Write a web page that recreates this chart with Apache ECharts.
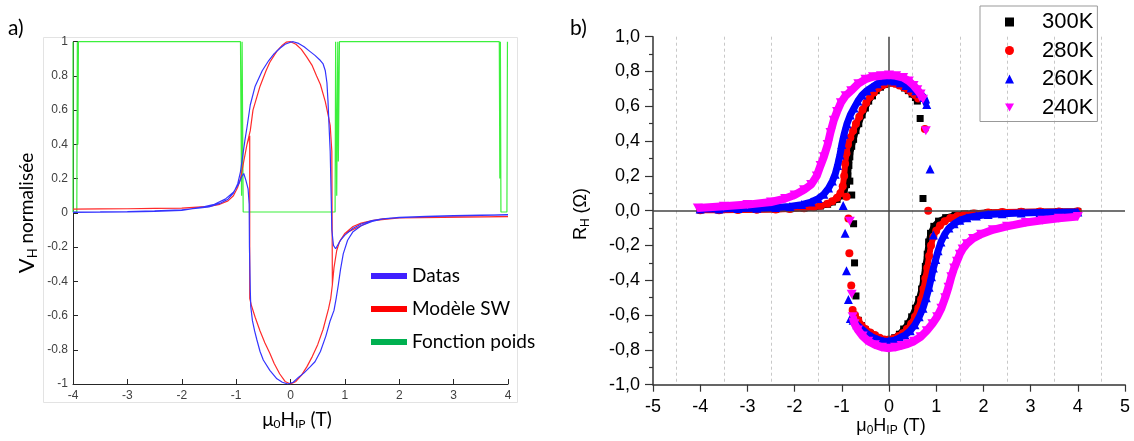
<!DOCTYPE html>
<html><head><meta charset="utf-8">
<script src="https://cdn.jsdelivr.net/npm/echarts@6/dist/echarts.min.js"></script>
<style>html,body{margin:0;padding:0;background:#fff}#c{width:1134px;height:441px}</style>
</head><body><div id="c"></div>
<script>
// ---------- Panel a) : lines ----------
const leftDatas = [
 [-4.00,0.005],[-3.5,0.006],[-3.0,0.008],[-2.5,0.012],[-2.0,0.018],[-1.7,0.027],[-1.5,0.035],[-1.3,0.055],[-1.15,0.08],[-1.05,0.115],[-0.97,0.17],[-0.92,0.24],[-0.88,0.33],[-0.84,0.42],[-0.80,0.50],[-0.74,0.63],[-0.65,0.74],[-0.52,0.83],[-0.40,0.89],[-0.30,0.93],[-0.20,0.96],[-0.10,0.985],[0.0,0.997],[0.05,1.0],[0.15,0.99],[0.25,0.97],[0.35,0.945],[0.45,0.92],[0.55,0.89],[0.60,0.87],[0.64,0.83],[0.67,0.76],[0.69,0.65],[0.71,0.50],[0.73,0.36],[0.75,0.07],[0.76,-0.10],[0.79,-0.19],[0.83,-0.21],[0.86,-0.20],[0.92,-0.16],[1.0,-0.13],[1.15,-0.09],[1.3,-0.065],[1.5,-0.045],[1.7,-0.035],[2.0,-0.028],[2.5,-0.022],[3.0,-0.018],[3.5,-0.015],[4.0,-0.012],
 [4.0,-0.01],[3.5,-0.013],[3.0,-0.016],[2.5,-0.02],[2.0,-0.027],[1.7,-0.035],[1.5,-0.05],[1.3,-0.075],[1.15,-0.11],[1.05,-0.16],[0.97,-0.24],[0.92,-0.33],[0.88,-0.42],[0.84,-0.5],[0.80,-0.57],[0.73,-0.63],[0.65,-0.72],[0.55,-0.81],[0.45,-0.87],[0.36,-0.90],[0.25,-0.935],[0.15,-0.96],[0.05,-0.99],[-0.05,-1.0],[-0.15,-0.99],[-0.25,-0.97],[-0.38,-0.92],[-0.5,-0.86],[-0.56,-0.81],[-0.62,-0.74],[-0.66,-0.69],[-0.70,-0.63],[-0.73,-0.55],[-0.74,-0.45],[-0.755,-0.2],[-0.76,0.05],[-0.78,0.14],[-0.82,0.19],[-0.86,0.23],[-0.9,0.21],[-0.95,0.17],[-1.05,0.12],[-1.2,0.08],[-1.4,0.05],[-1.6,0.035],[-2.0,0.015],[-2.5,0.008],[-3.0,0.005],[-3.5,0.004],[-4.0,0.003]
];
const leftModele = [
 [-4,0.022],[-3.5,0.023],[-3.0,0.024],[-2.5,0.026],[-2.0,0.028],[-1.7,0.032],[-1.5,0.038],[-1.3,0.05],[-1.15,0.07],[-1.05,0.1],[-0.97,0.15],[-0.92,0.2],[-0.86,0.3],[-0.8,0.4],[-0.74,0.48],[-0.69,0.6],[-0.56,0.74],[-0.45,0.83],[-0.38,0.88],[-0.25,0.945],[-0.15,0.98],[-0.08,0.997],[0.0,1.0],[0.1,0.985],[0.2,0.955],[0.3,0.91],[0.4,0.86],[0.48,0.8],[0.55,0.75],[0.64,0.65],[0.7,0.56],[0.73,0.51],[0.76,0.36],[0.77,-0.42],[0.8,-0.32],[0.85,-0.22],[0.9,-0.17],[1.0,-0.12],[1.15,-0.08],[1.3,-0.06],[1.5,-0.045],[1.7,-0.035],[2.0,-0.03],[2.5,-0.026],[3.0,-0.024],[3.5,-0.023],[4.0,-0.022],
 [4.0,-0.022],[2.0,-0.03],[1.5,-0.045],[1.0,-0.12],[0.9,-0.17],[0.85,-0.22],[0.8,-0.32],[0.77,-0.42],[0.74,-0.5],[0.7,-0.56],[0.6,-0.68],[0.5,-0.77],[0.4,-0.84],[0.3,-0.9],[0.2,-0.95],[0.1,-0.985],[0.0,-1.0],[-0.1,-0.985],[-0.2,-0.94],[-0.3,-0.88],[-0.38,-0.82],[-0.47,-0.76],[-0.56,-0.69],[-0.65,-0.61],[-0.72,-0.54],[-0.75,-0.5],[-0.75,0.45],[-0.8,0.4],[-0.86,0.3],[-0.92,0.2],[-0.97,0.15],[-1.05,0.1],[-1.15,0.07],[-1.3,0.05],[-1.5,0.038],[-2.0,0.028],[-3.0,0.024],[-4.0,0.022]
];
const leftPoids = [
 [-4.0,1.0],[-4.0,0.005],[-3.93,0.005],[-3.92,1.0],[-3.91,0.4],[-3.9,1.0],[-0.92,1.0],[-0.9,0.1],[-0.89,1.0],[-0.87,0.005],[0.82,0.005],[0.83,1.0],[0.85,0.1],[0.87,1.0],[0.88,0.3],[0.9,1.0],[3.84,1.0],[3.85,0.2],[3.86,1.0],[3.87,0.005],[3.98,0.005],[3.99,1.0]
];
const leftXTicks = [-4,4,1];
const leftYTicks = [-1,1,0.2];

// ---------- Panel b) : scatter loops ----------
const k300Upper = [[-4,0.005],[-3.6,0.005],[-3.2,0.006],[-2.8,0.007],[-2.4,0.009],[-2.1,0.011],[-1.8,0.015],[-1.6,0.02],[-1.45,0.027],[-1.3,0.037],[-1.2,0.05],[-1.1,0.065],[-1.02,0.085],[-0.95,0.11],[-0.9,0.15],[-0.87,0.2],[-0.85,0.26],[-0.83,0.31],[-0.79,0.37],[-0.75,0.41],[-0.7,0.46],[-0.64,0.5],[-0.57,0.55],[-0.5,0.59],[-0.43,0.63],[-0.35,0.66],[-0.27,0.69],[-0.18,0.71],[-0.09,0.725],[0.0,0.735],[0.08,0.735],[0.16,0.73],[0.25,0.72],[0.33,0.705],[0.41,0.69],[0.49,0.67],[0.56,0.65],[0.6,0.63]];
const k300UpperSwitch = [[0.66,0.53],[0.72,0.07]];
const k300Lower = [[4,-0.004],[3.6,-0.005],[3.2,-0.006],[2.8,-0.007],[2.4,-0.009],[2.1,-0.011],[1.8,-0.015],[1.6,-0.019],[1.4,-0.025],[1.2,-0.04],[1.05,-0.06],[0.95,-0.09],[0.88,-0.13],[0.84,-0.18],[0.81,-0.25],[0.77,-0.32],[0.73,-0.39],[0.69,-0.45],[0.63,-0.51],[0.56,-0.56],[0.48,-0.61],[0.4,-0.65],[0.31,-0.68],[0.22,-0.71],[0.12,-0.73],[0.02,-0.745],[-0.1,-0.745],[-0.2,-0.735],[-0.3,-0.72],[-0.4,-0.705],[-0.5,-0.685],[-0.58,-0.66],[-0.65,-0.63]];
const k300LowerSwitch = [[-0.7,-0.49],[-0.73,-0.3],[-0.75,-0.075],[-0.79,0.09],[-0.83,0.17]];

const k280Upper = [[-4,0.003],[-3.6,0.003],[-3.2,0.004],[-2.8,0.005],[-2.4,0.007],[-2.1,0.01],[-1.8,0.014],[-1.6,0.02],[-1.45,0.028],[-1.3,0.04],[-1.2,0.055],[-1.1,0.075],[-1.03,0.1],[-0.98,0.14],[-0.95,0.2],[-0.93,0.27],[-0.9,0.33],[-0.87,0.38],[-0.82,0.42],[-0.76,0.46],[-0.7,0.5],[-0.63,0.54],[-0.56,0.58],[-0.48,0.62],[-0.4,0.655],[-0.32,0.68],[-0.23,0.705],[-0.14,0.72],[-0.05,0.73],[0.04,0.735],[0.13,0.73],[0.22,0.72],[0.31,0.71],[0.4,0.695],[0.48,0.68],[0.55,0.665],[0.62,0.645]];
const k280UpperSwitch = [[0.76,0.47],[0.83,0.0]];
const k280Lower = [[4,-0.003],[3.6,-0.004],[3.2,-0.005],[2.8,-0.006],[2.4,-0.008],[2.1,-0.011],[1.8,-0.016],[1.6,-0.022],[1.45,-0.03],[1.3,-0.042],[1.18,-0.06],[1.08,-0.085],[1.0,-0.115],[0.94,-0.15],[0.89,-0.2],[0.85,-0.26],[0.81,-0.33],[0.77,-0.39],[0.73,-0.45],[0.68,-0.51],[0.62,-0.56],[0.55,-0.61],[0.47,-0.65],[0.38,-0.68],[0.29,-0.705],[0.2,-0.72],[0.1,-0.735],[0.0,-0.74],[-0.1,-0.74],[-0.2,-0.73],[-0.3,-0.715],[-0.4,-0.7],[-0.5,-0.68],[-0.58,-0.66],[-0.65,-0.63],[-0.72,-0.6]];
const k280LowerSwitch = [[-0.77,-0.57],[-0.8,-0.43],[-0.84,-0.245],[-0.86,-0.045],[-0.9,0.08]];

const k260Upper = [[-4,0.01],[-3.6,0.01],[-3.2,0.012],[-2.8,0.014],[-2.4,0.018],[-2.1,0.024],[-1.85,0.035],[-1.65,0.05],[-1.5,0.07],[-1.38,0.095],[-1.28,0.13],[-1.2,0.17],[-1.14,0.21],[-1.09,0.26],[-1.04,0.32],[-1.0,0.38],[-0.95,0.44],[-0.89,0.5],[-0.82,0.55],[-0.74,0.59],[-0.66,0.63],[-0.57,0.665],[-0.47,0.69],[-0.36,0.71],[-0.25,0.73],[-0.13,0.745],[0.0,0.75],[0.12,0.745],[0.24,0.735],[0.36,0.72],[0.47,0.705],[0.57,0.69],[0.66,0.675],[0.74,0.65],[0.8,0.61]];
const k260UpperSwitch = [[0.87,0.24],[0.94,-0.14]];
const k260Lower = [[4,-0.008],[3.6,-0.009],[3.2,-0.011],[2.8,-0.013],[2.4,-0.017],[2.1,-0.022],[1.85,-0.03],[1.65,-0.04],[1.5,-0.055],[1.38,-0.075],[1.27,-0.1],[1.18,-0.135],[1.1,-0.18],[1.04,-0.23],[0.99,-0.28],[0.94,-0.33],[0.9,-0.38],[0.85,-0.44],[0.79,-0.5],[0.72,-0.56],[0.64,-0.61],[0.55,-0.655],[0.45,-0.69],[0.34,-0.715],[0.23,-0.73],[0.12,-0.745],[0.0,-0.75],[-0.12,-0.75],[-0.24,-0.74],[-0.36,-0.725],[-0.47,-0.705],[-0.58,-0.68],[-0.68,-0.655],[-0.76,-0.63],[-0.82,-0.62]];
const k260LowerSwitch = [[-0.86,-0.51],[-0.9,-0.345],[-0.93,-0.13],[-0.97,0.03]];

const k240Upper = [[-4.05,0.015],[-3.5,0.025],[-3.0,0.035],[-2.5,0.05],[-2.2,0.07],[-2.0,0.09],[-1.8,0.12],[-1.65,0.15],[-1.53,0.2],[-1.45,0.26],[-1.38,0.31],[-1.3,0.38],[-1.24,0.45],[-1.17,0.52],[-1.1,0.57],[-1.02,0.62],[-0.92,0.66],[-0.8,0.69],[-0.65,0.73],[-0.5,0.755],[-0.34,0.77],[-0.17,0.775],[0.0,0.78],[0.15,0.775],[0.3,0.765],[0.42,0.745],[0.52,0.72],[0.6,0.695],[0.67,0.67],[0.72,0.64]];
const k240UpperSwitch = [[0.78,0.46]];
const k240Lower = [[4.0,-0.034],[3.6,-0.043],[3.25,-0.055],[2.9,-0.068],[2.5,-0.09],[2.2,-0.11],[1.95,-0.135],[1.78,-0.16],[1.65,-0.19],[1.56,-0.22],[1.5,-0.25],[1.44,-0.29],[1.38,-0.33],[1.32,-0.38],[1.26,-0.44],[1.19,-0.5],[1.11,-0.56],[1.02,-0.61],[0.92,-0.65],[0.8,-0.69],[0.67,-0.725],[0.53,-0.75],[0.4,-0.765],[0.27,-0.775],[0.13,-0.785],[0.0,-0.79],[-0.15,-0.785],[-0.3,-0.77],[-0.44,-0.75],[-0.56,-0.72],[-0.66,-0.685],[-0.73,-0.65],[-0.77,-0.61]];
const k240LowerSwitch = [[-0.79,-0.48],[-0.83,-0.06]];

const rightXTicks = [-5,5,1];
const rightYTicks = [-1,1,0.2];

// ---------- build ----------
const FL = 'Lato, "Open Sans", sans-serif';
const FR = '"Liberation Sans", Arial, sans-serif';
const DOWN = 'path://M0,0L10,0L5,9Z';

const chart = echarts.init(document.getElementById('c'), null, {renderer:'canvas'});

function leftLine(name, data, color, z){
  return {type:'line', name, data, xAxisIndex:0, yAxisIndex:0, showSymbol:false, symbol:'none',
    lineStyle:{color, width:1.2}, itemStyle:{color}, z, silent:true, animation:false};
}
function band(name, data, color, symbol, size, width, z){
  return {type:'line', name, data, xAxisIndex:1, yAxisIndex:1, symbol, symbolSize:size, showSymbol:true,
    lineStyle:{color, width}, itemStyle:{color, opacity:1}, z, silent:true, animation:false};
}
function sparse(name, data, color, symbol, size, z){
  return {type:'scatter', name, data, xAxisIndex:1, yAxisIndex:1, symbol, symbolSize:size,
    itemStyle:{color, opacity:1}, z, silent:true, animation:false};
}

const subRich = (fam, big, small, pad, vbig) => ({
  m:{fontFamily:fam, fontSize:big, lineHeight:big+2, fill:'#000'},
  v:{fontFamily:fam, fontSize:vbig||big, lineHeight:big+2, fill:'#000'},
  s:{fontFamily:fam, fontSize:small, lineHeight:small, padding:[pad,0,0,0], fill:'#000'}
});

const option = {
  animation:false,
  backgroundColor:'#fff',
  grid:[
    {left:73, top:41.7, width:435, height:342.3, containLabel:false},
    {left:653, right:9, top:36.7, bottom:56.3, containLabel:false}
  ],
  xAxis:[
    {type:'value', gridIndex:0, min:leftXTicks[0], max:leftXTicks[1], interval:leftXTicks[2],
     axisLine:{show:true, onZero:false, lineStyle:{color:'#262626', width:1}},
     axisTick:{show:true, inside:true, length:5, lineStyle:{color:'#262626'}},
     axisLabel:{fontFamily:FR, fontSize:12, color:'#404040', margin:6},
     splitLine:{show:false}},
    {type:'value', gridIndex:1, min:rightXTicks[0], max:rightXTicks[1], interval:rightXTicks[2],
     axisLine:{show:true, onZero:false, lineStyle:{color:'#333', width:1.5}},
     axisTick:{show:true, inside:false, length:7, lineStyle:{color:'#333', width:1.2}},
     minorTick:{show:false, splitNumber:2},
     minorSplitLine:{show:true, lineStyle:{color:'#c8c8c8', type:[3,3], width:1}},
     axisLabel:{fontFamily:FR, fontSize:18, color:'#000', margin:13},
     splitLine:{show:false}}
  ],
  yAxis:[
    {type:'value', gridIndex:0, min:leftYTicks[0], max:leftYTicks[1], interval:leftYTicks[2],
     axisLine:{show:true, onZero:false, lineStyle:{color:'#262626', width:1}},
     axisTick:{show:true, inside:true, length:5, lineStyle:{color:'#262626'}},
     axisLabel:{fontFamily:FR, fontSize:12, color:'#404040', margin:5},
     splitLine:{show:false}},
    {type:'value', gridIndex:1, min:rightYTicks[0], max:rightYTicks[1], interval:rightYTicks[2],
     axisLine:{show:true, onZero:false, lineStyle:{color:'#333', width:1.5}},
     axisTick:{show:true, inside:false, length:8, lineStyle:{color:'#333', width:1.2}},
     minorTick:{show:true, splitNumber:2, length:4, lineStyle:{color:'#333', width:1.2}},
     axisLabel:{fontFamily:FR, fontSize:18, color:'#000', margin:13,
       formatter:v => (Math.round(v*10)/10).toFixed(1).replace('.', ',')},
     splitLine:{show:false}}
  ],
  legend:[
    {orient:'vertical', left:366, top:261, itemWidth:36, itemHeight:6, itemGap:13, selectedMode:false,
     textStyle:{fontFamily:FL, fontSize:19, color:'#000', lineHeight:20},
     data:[
       {name:'Datas', icon:'rect', itemStyle:{color:'#4020ff'}},
       {name:'Modèle SW', icon:'rect', itemStyle:{color:'#ff0000'}},
       {name:'Fonction poids', icon:'rect', itemStyle:{color:'#00b050'}}
     ]},
    {orient:'vertical', left:980, top:6, itemWidth:9, itemHeight:9, itemGap:4.5, selectedMode:false,
     padding:[4,4,2,25], borderColor:'#999', borderWidth:1,
     textStyle:{fontFamily:FR, fontSize:22, color:'#000', lineHeight:24, padding:[0,0,0,23]},
     data:[
       {name:'300K', icon:'rect', itemStyle:{color:'#000'}},
       {name:'280K', icon:'circle', itemStyle:{color:'#ff0000'}},
       {name:'260K', icon:'triangle', itemStyle:{color:'#0000ff'}},
       {name:'240K', icon:DOWN, itemStyle:{color:'#ff00ff'}}
     ]}
  ],
  series:[
    leftLine('Fonction poids', leftPoids, '#3cf03c', 2),
    leftLine('Modèle SW', leftModele, '#ff2a2a', 3),
    leftLine('Datas', leftDatas, '#3434ff', 4),
    {type:'line', name:'zero', data:[], xAxisIndex:1, yAxisIndex:1, z:1, silent:true,
     markLine:{silent:true, symbol:'none', label:{show:false}, animation:false,
       lineStyle:{color:'#444', type:'solid', width:1.5},
       data:[{xAxis:0},{yAxis:0}]}},
    band('300K', k300Upper, '#000', 'rect', 7, 6, 3),
    band('300K', k300Lower, '#000', 'rect', 7, 6, 3),
    sparse('300K', k300UpperSwitch, '#000', 'rect', 7, 3),
    sparse('300K', k300LowerSwitch, '#000', 'rect', 7, 3),
    band('280K', k280Upper, '#ff0000', 'circle', 8, 6, 4),
    band('280K', k280Lower, '#ff0000', 'circle', 8, 6, 4),
    sparse('280K', k280UpperSwitch, '#ff0000', 'circle', 8, 4),
    sparse('280K', k280LowerSwitch, '#ff0000', 'circle', 8, 4),
    band('260K', k260Upper, '#0000ff', 'triangle', 9, 7, 5),
    band('260K', k260Lower, '#0000ff', 'triangle', 9, 7, 5),
    sparse('260K', k260UpperSwitch, '#0000ff', 'triangle', 9, 5),
    sparse('260K', k260LowerSwitch, '#0000ff', 'triangle', 9, 5),
    band('240K', k240Upper, '#ff00ff', DOWN, [10,9], 8, 6),
    band('240K', k240Lower, '#ff00ff', DOWN, [10,9], 8, 6),
    sparse('240K', k240UpperSwitch, '#ff00ff', DOWN, [10,9], 6),
    sparse('240K', k240LowerSwitch, '#ff00ff', DOWN, [10,9], 6)
  ],
  graphic:[
    {type:'rect', shape:{x:43.5, y:37.5, width:474, height:365}, style:{fill:'none', stroke:'#e3e3e3', lineWidth:1}, silent:true, z:-1},
    {type:'text', x:8, y:28, style:{text:'a)', fontFamily:FL, fontSize:21, fill:'#000', verticalAlign:'middle'}},
    {type:'text', x:570, y:28, style:{text:'b)', fontFamily:FL, fontSize:21, fill:'#000', verticalAlign:'middle'}},
    {type:'text', x:27, y:213, rotation:Math.PI/2,
     style:{text:'{v|V}{s|H}{m| normalisée}', align:'center', verticalAlign:'middle', rich:subRich(FL,19,13,11,22)}},
    {type:'text', x:297, y:420,
     style:{text:'{m|μ}{s|0}{m|H}{s|IP}{m| (T)}', align:'center', verticalAlign:'middle', rich:subRich(FL,19,12,9)}},
    {type:'text', x:581, y:214, rotation:Math.PI/2,
     style:{text:'{m|R}{s|H}{m| (Ω)}', align:'center', verticalAlign:'middle', rich:subRich(FR,18,12,9)}},
    {type:'text', x:891, y:426,
     style:{text:'{m|μ}{s|0}{m|H}{s|IP}{m| (T)}', align:'center', verticalAlign:'middle', rich:subRich(FR,18,12,9)}}
  ]
};
chart.setOption(option);
</script></body></html>
